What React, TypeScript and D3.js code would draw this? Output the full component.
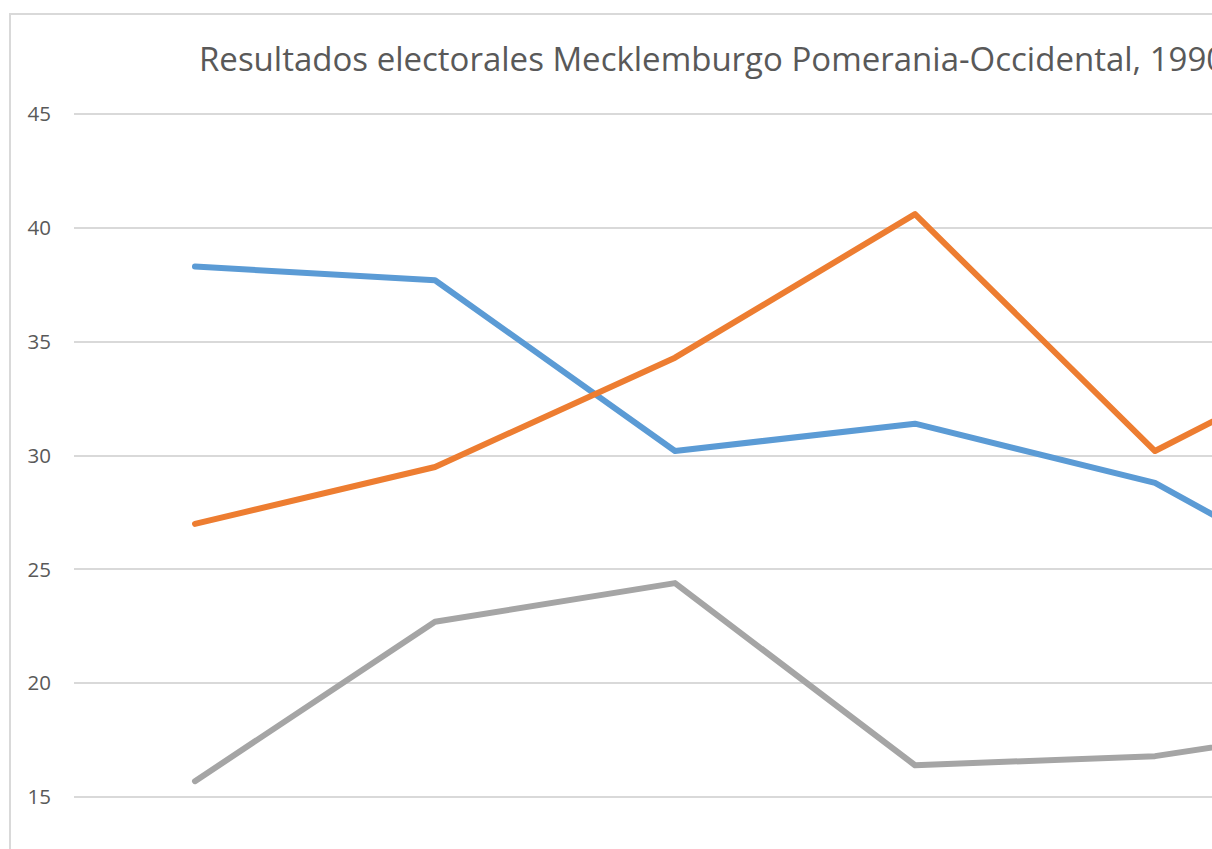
import { useEffect, useRef } from 'react';
import * as d3 from 'd3';

const years = ['1990', '1994', '1998', '2002', '2006', '2011', '2016'];
const cduValues = [38.3, 37.7, 30.2, 31.4, 28.8, 23.0, 19.0];
const spdValues = [27.0, 29.5, 34.3, 40.6, 30.2, 35.6, 30.6];
const pdsValues = [15.7, 22.7, 24.4, 16.4, 16.8, 18.4, 13.2];
const seriesNames = ['CDU', 'SPD', 'PDS / Die Linke'];
const yTicks = [15, 20, 25, 30, 35, 40, 45];
const titleText = 'Resultados electorales Mecklemburgo Pomerania-Occidental, 1990-2016';

const colors = ['#5b9bd5', '#ed7d31', '#a5a5a5'];

const App = () => {
  const svgRef = useRef<SVGSVGElement | null>(null);

  useEffect(() => {
    if (!svgRef.current) return;
    const svg = d3.select(svgRef.current);
    svg.selectAll('*').remove();

    const plot = { left: 75, right: 1755, top: 114, bottom: 911 };

    // frame of the chart area (runs off the page like the screenshot)
    svg.append('rect')
      .attr('x', 10)
      .attr('y', 14)
      .attr('width', 1900)
      .attr('height', 1100)
      .attr('fill', '#fff')
      .attr('stroke', '#d9d9d9')
      .attr('stroke-width', 2);

    const xScale = d3.scaleBand<string>()
      .domain(years)
      .range([plot.left, plot.right]);

    const yScale = d3.scaleLinear()
      .domain([10, 45])
      .range([plot.bottom, plot.top]);

    const xPos = (i: number) => (xScale(years[i]) as number) + xScale.bandwidth() / 2;

    // gridlines + tick labels
    yTicks.forEach(t => {
      svg.append('line')
        .attr('x1', plot.left - 1)
        .attr('x2', plot.right)
        .attr('y1', Math.round(yScale(t)))
        .attr('y2', Math.round(yScale(t)))
        .attr('stroke', '#d9d9d9')
        .attr('stroke-width', 2);
      svg.append('text')
        .attr('x', 51)
        .attr('y', yScale(t))
        .attr('dy', '0.35em')
        .attr('text-anchor', 'end')
        .style('font-family', '"Open Sans", sans-serif')
        .style('font-size', '20.5px')
        .style('fill', '#595959')
        .text(t);
    });

    const line = d3.line<number>()
      .x((_, i) => xPos(i))
      .y(d => yScale(d));

    [cduValues, spdValues, pdsValues].forEach((vals, k) => {
      svg.append('path')
        .datum(vals)
        .attr('fill', 'none')
        .attr('stroke', colors[k])
        .attr('stroke-width', 6)
        .attr('stroke-linecap', 'round')
        .attr('stroke-linejoin', 'round')
        .attr('d', line)
        .append('title')
        .text(seriesNames[k]);
    });

    // title
    svg.append('text')
      .attr('x', 199)
      .attr('y', 71)
      .style('font-family', '"Open Sans", sans-serif')
      .style('font-size', '33px')
      .style('fill', '#595959')
      .text(titleText);
  }, []);

  return (
    <svg
      ref={svgRef}
      width={1212}
      height={849}
      style={{ position: 'fixed', left: 0, top: 0, background: '#fff' }}
    />
  );
};

export default App;
